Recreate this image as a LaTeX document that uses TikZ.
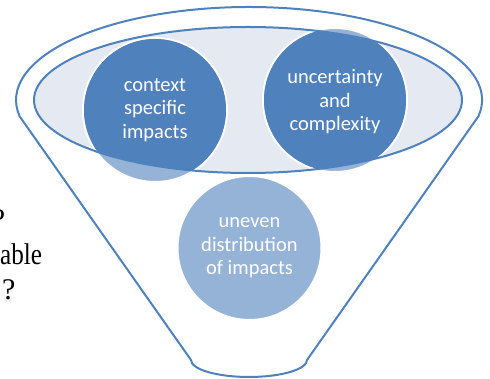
\documentclass[tikz,border=0pt]{standalone}
\usepackage{fontspec}
\setmainfont{Liberation Serif}
\newfontfamily\calib{Carlito}
\usetikzlibrary{positioning}
\definecolor{funnelblue}{RGB}{79,129,189}
\definecolor{bubblelight}{RGB}{149,179,215}
\definecolor{rimfill}{RGB}{229,233,242}

\begin{document}
\begin{tikzpicture}[x=1pt,y=1pt,
  rim/.style={draw=funnelblue,line width=2pt},
  bubble/.style={circle,fill=bubblelight,draw=white,line width=2pt,minimum size=144pt,inner sep=0pt},
  words/.style={text=white,font=\calib\fontsize{20.5}{23.5}\selectfont,align=center},
  side/.style={font=\fontsize{30}{30}\selectfont,inner sep=0pt}]
\useasboundingbox (0,0) rectangle (490,379);
\clip (0,0) rectangle (490,379);
% page text beside the funnel
\node[side,anchor=base east] (q1) at (5.5,149) {?};
\node[side,anchor=base west,xscale=0.84] (able) at (0,114) {able};
\node[side,anchor=base west] (q2) at (2,79) {?};
% inner rim
\fill[rimfill] (248,279) ellipse (214 and 73);
% circles
\node[bubble] (ctx) at (155,269) {};
\node[bubble] (unc) at (335,279) {};
\node[bubble] (uneven) at (249.5,131) {};
\begin{scope}
\clip (248,279) ellipse (214 and 73);
\fill[funnelblue] (ctx) circle (71);
\fill[funnelblue] (unc) circle (71);
\end{scope}
\draw[rim] (248,279) ellipse (214 and 73);
% funnel outline
\draw[rim] (19.5,262.85) coordinate (tl) -- (191,19) coordinate (bl)
  arc (180:360:58 and 17) coordinate (br) -- (478.5,262.85) coordinate (tr)
  arc (-10:190:233 and 93);
% labels
\node[words] (ctxtext) at (ctx) {context\\specific\\impacts};
\node[words] (unctext) at ([yshift=-2pt]unc) {uncertainty\\and\\complexity};
\node[words] (uneventext) at (uneven) {uneven\\distribution\\of impacts};
\end{tikzpicture}
\end{document}
